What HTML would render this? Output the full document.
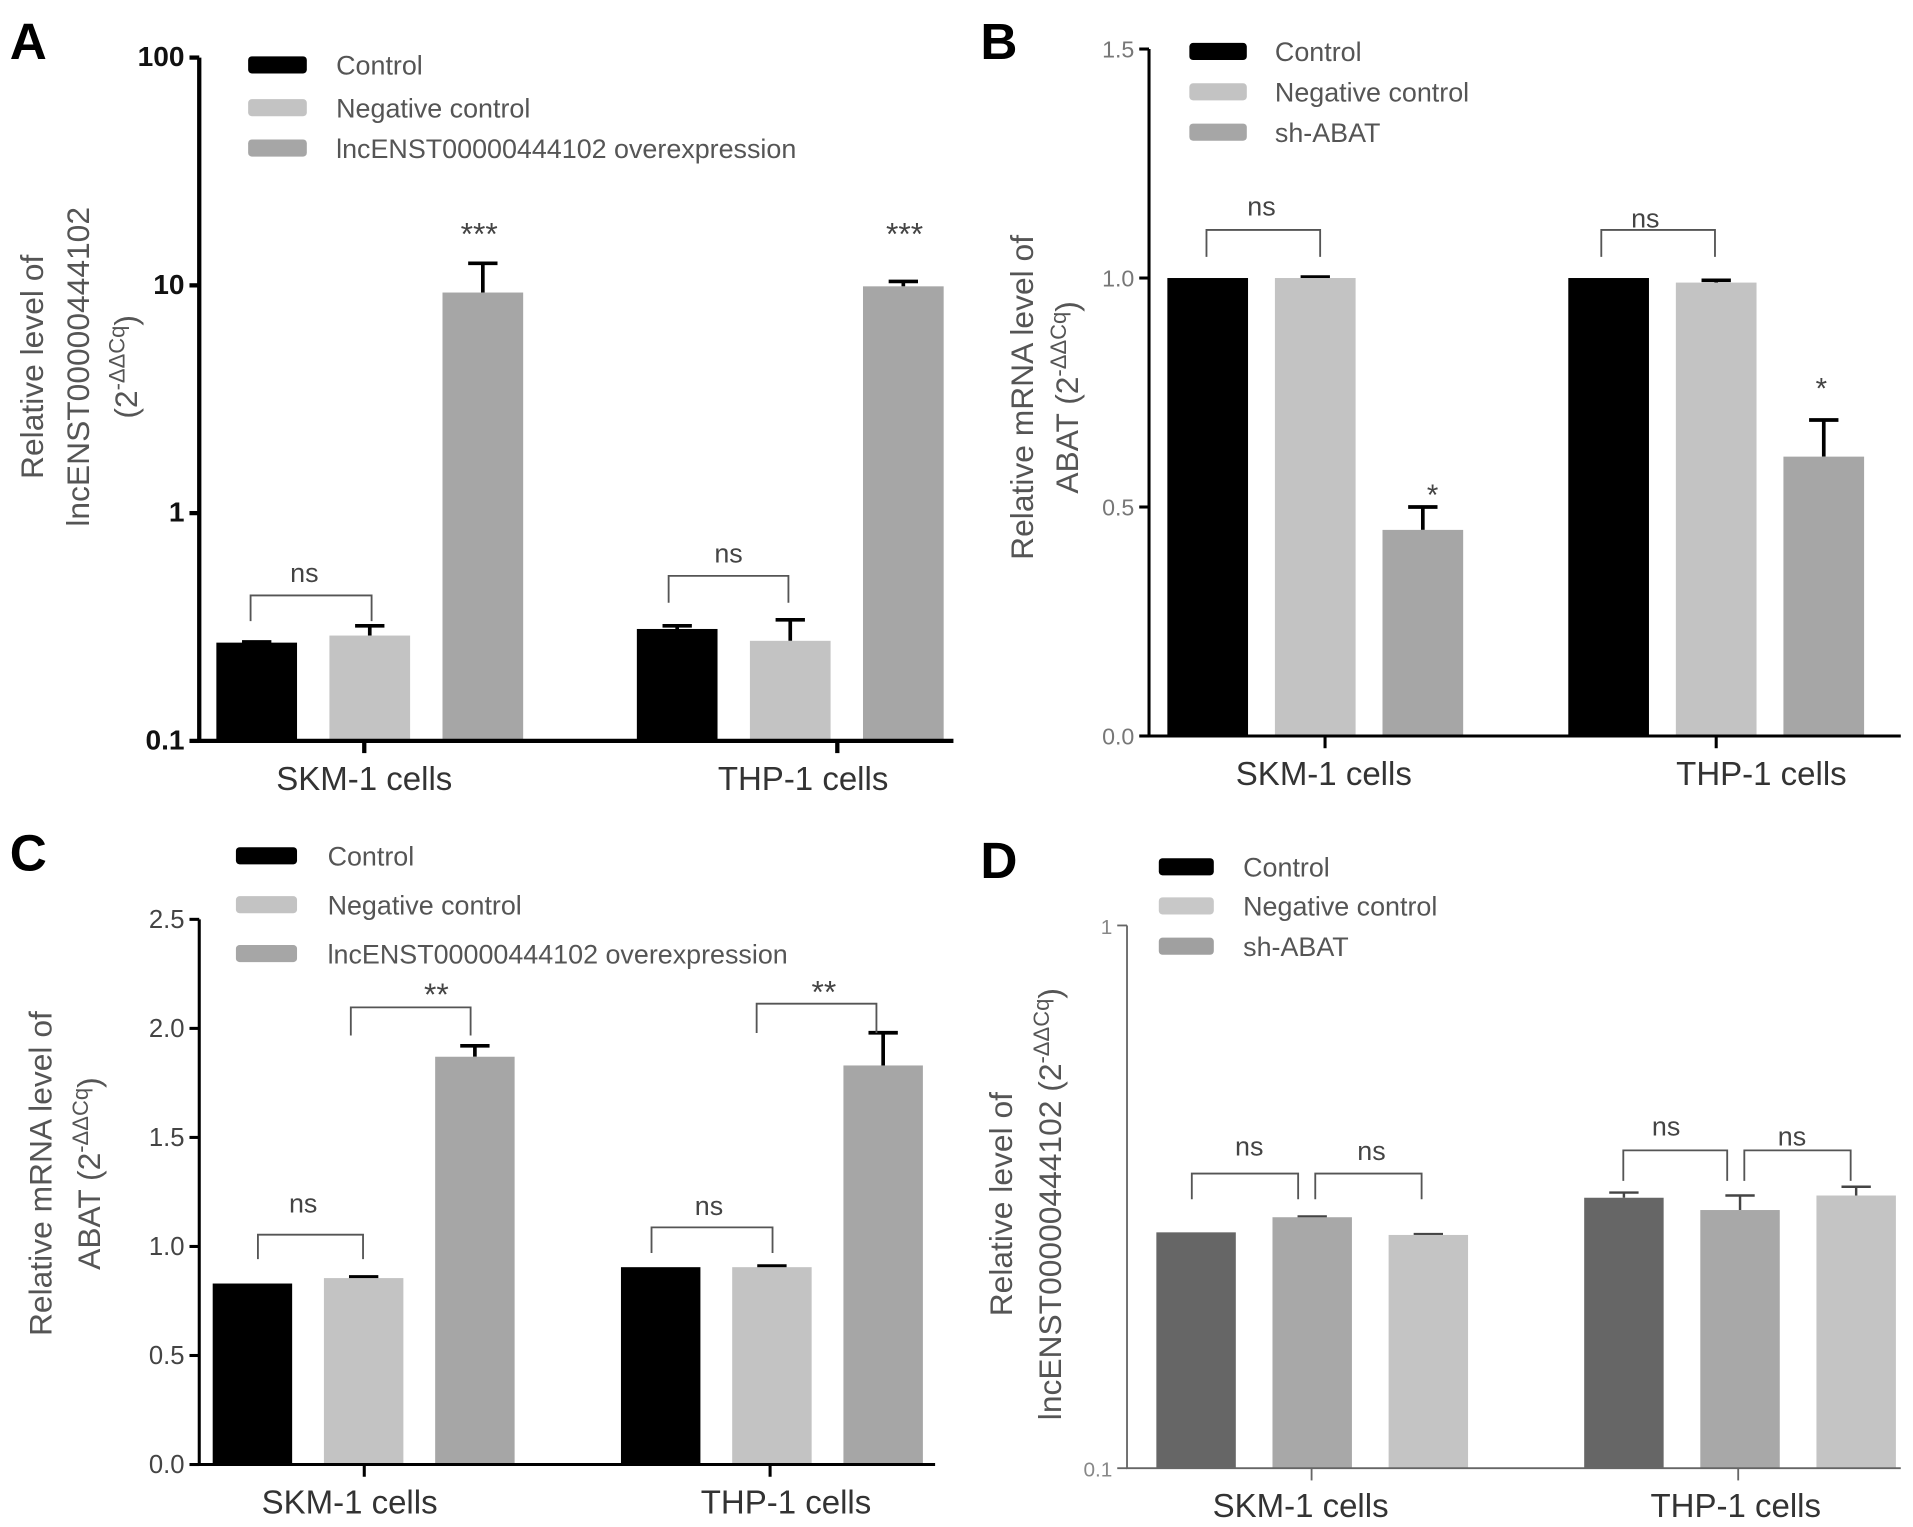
<!DOCTYPE html>
<html><head><meta charset="utf-8"><style>
html,body{margin:0;padding:0;background:#fff;width:1913px;height:1527px;overflow:hidden}
svg{display:block;font-family:"Liberation Sans",Arial,sans-serif}
</style></head><body>
<svg id="fig" width="1913" height="1527" viewBox="0 0 1565 1249" xmlns="http://www.w3.org/2000/svg"></svg>
<script>
const categories = ["SKM-1 cells","THP-1 cells"];
const aSeries = ["Control","Negative control","lncENST00000444102 overexpression"];
const aValues = [[0.27,0.29,9.3],[0.31,0.275,9.9]];
const aErrors = [[0.272,0.32,12.5],[0.32,0.34,10.4]];
const aTicks = ["0.1","1","10","100"];
const bSeries = ["Control","Negative control","sh-ABAT"];
const bValues = [[1.0,1.0,0.45],[1.0,0.99,0.61]];
const bErrors = [[1.0,1.002,0.50],[1.0,0.995,0.69]];
const bTicks = ["0.0","0.5","1.0","1.5"];
const cValues = [[0.83,0.855,1.87],[0.905,0.905,1.83]];
const cErrors = [[0.83,0.86,1.92],[0.905,0.91,1.98]];
const cTicks = ["0.0","0.5","1.0","1.5","2.0","2.5"];
const dValues = [[0.272,0.29,0.269],[0.315,0.299,0.318]];
const dErrors = [[0.272,0.291,0.27],[0.322,0.318,0.33]];
const dTicks = ["0.1","1"];

const NS="http://www.w3.org/2000/svg";
const svg=document.getElementById('fig');
function el(tag,attrs,parent,text){const e=document.createElementNS(NS,tag);for(const k in attrs)e.setAttribute(k,attrs[k]);if(text!==undefined)e.textContent=text;(parent||svg).appendChild(e);return e;}

function panel(cfg){
  const g=el('g',{});
  
  
  const yScale=cfg.log
    ? v=>cfg.y0-(Math.log10(v)-Math.log10(cfg.min))/(Math.log10(cfg.max)-Math.log10(cfg.min))*(cfg.y0-cfg.y1)
    : v=>cfg.y0-(v-cfg.min)/(cfg.max-cfg.min)*(cfg.y0-cfg.y1);
  // bars
  cfg.values.forEach((grp,gi)=>{
    grp.forEach((v,si)=>{
      const x=cfg.barX[gi]+si*cfg.step;
      const y=yScale(v);
      const e=cfg.errors[gi][si];
      if(e>v){
        const ey=yScale(e);
        const l=el('path',{d:`M${x+cfg.bw/2},${y} V${ey} M${x+cfg.bw/2-12},${ey} H${x+cfg.bw/2+12}`,stroke:cfg.errColor||'#000','stroke-width':cfg.errW||3,fill:'none'},g);
        
        
      }
      const r=el('rect',{x:x,y:y,width:cfg.bw,height:cfg.y0-y,fill:cfg.colors[si]},g);
      
      
    });
  });
  // axes
  const ax=el('path',{d:`M${cfg.x0},${cfg.y1} V${cfg.y0} H${cfg.x1}`,stroke:cfg.axisColor,'stroke-width':cfg.axisW,fill:'none'},g);
  
  
  cfg.ticks.forEach(t=>{
    const y=yScale(parseFloat(t));
    el('line',{x1:cfg.x0-8,x2:cfg.x0,y1:y,y2:y,stroke:cfg.axisColor,'stroke-width':cfg.axisW},g);
    const tl=el('text',{x:cfg.x0-12,y:y+7,'text-anchor':'end','font-size':cfg.tickFs,'font-weight':cfg.tickBold?'bold':'normal',fill:cfg.tickColor},g,t);
    
    
  });
  categories.forEach((c,gi)=>{
    const cx=cfg.catTick[gi];
    el('line',{x1:cx,x2:cx,y1:cfg.y0,y2:cfg.y0+10,stroke:cfg.axisColor,'stroke-width':cfg.axisW},g);
    const t=el('text',{x:cfg.catLabel[gi],y:cfg.y0+40,'text-anchor':'middle','font-size':27,fill:'#333'},g,c);
    
    
  });
  // legend
  cfg.series.forEach((s,i)=>{
    const ly=cfg.legY[i];
    const sw=el('rect',{x:cfg.legX,y:ly-7,width:cfg.legW,height:14,rx:3,fill:cfg.legColors[i]},g);
    
    
    const t=el('text',{x:cfg.legTX,y:ly+8,'font-size':22,fill:'#555'},g,s);
    
    
  });
  // y label
  cfg.ylabel.forEach((ln,i)=>{
    const t=el('text',{transform:`translate(${ln.x},${cfg.ylY}) rotate(-90)`,'text-anchor':'middle','font-size':26,fill:'#555'},g);
    
    
    t.appendChild(document.createTextNode(ln.t));
    if(ln.sup){
      const ts=el('tspan',{'font-size':18,dy:-10},t,'-ΔΔCq');
      el('tspan',{dy:10},t,')');
    }
  });
  // annotations
  (cfg.brackets||[]).forEach(b=>{
    const p=el('path',{d:`M${b[0]},${b[3]} V${b[2]} H${b[1]} V${b[3]}`,stroke:'#555','stroke-width':1.5,fill:'none'},g);
    
    
  });
  (cfg.labels||[]).forEach(l=>{
    const t=el('text',{x:l[0],y:l[1],'text-anchor':'middle','font-size':l[3]||22,fill:'#444'},g,l[2]);
    
    
  });
  const L=el('text',{x:cfg.letter[0],y:cfg.letter[1],'font-size':42,'font-weight':'bold',fill:'#000'},g,cfg.letterT);
  
  
}

const C3=['#000','#c3c3c3','#a6a6a6'];
panel({name:'panel-a',letterT:'A',letter:[8,48],log:true,min:0.1,max:100,x0:163,x1:780,y0:606,y1:47,
  values:aValues,errors:aErrors,ticks:aTicks,colors:C3,legColors:C3,bw:66,step:92.5,barX:[177,521],
  axisColor:'#000',axisW:3.5,tickFs:23,tickBold:true,tickColor:'#111',
  catTick:[298,685],catLabel:[298,657],series:aSeries,legX:203,legW:48,legTX:275,legY:[53,88,121],
  ylabel:[{x:35,t:'Relative level of'},{x:73,t:'lncENST00000444102'},{x:112,t:'(2',sup:true}],ylY:300,
  brackets:[[205,304,487,508],[547,645,471,493]],
  labels:[[249,476,'ns'],[596,460,'ns'],[392,200,'***',26],[740,200,'***',26]]});
panel({name:'panel-b',letterT:'B',letter:[802,48],log:false,min:0,max:1.5,x0:940,x1:1555,y0:602,y1:40,
  values:bValues,errors:bErrors,ticks:bTicks,colors:C3,legColors:C3,bw:66,step:88,barX:[955,1283],
  axisColor:'#000',axisW:2.5,tickFs:19,tickBold:false,tickColor:'#777',
  catTick:[1084,1404],catLabel:[1083,1441],series:bSeries,legX:973,legW:47,legTX:1043,legY:42,
  legY:[42,75,108],
  ylabel:[{x:845,t:'Relative mRNA level of'},{x:882,t:'ABAT (2',sup:true}],ylY:325,
  brackets:[[987,1080,188,210],[1310,1403,188,210]],
  labels:[[1032,176,'ns'],[1346,186,'ns'],[1172,413,'*',24],[1490,326,'*',24]]});
panel({name:'panel-c',letterT:'C',letter:[8,712],log:false,min:0,max:2.5,x0:163,x1:765,y0:1198,y1:752,
  values:cValues,errors:cErrors,ticks:cTicks,colors:C3,legColors:C3,bw:65,step:91,barX:[174,508],
  axisColor:'#000',axisW:2.5,tickFs:21,tickBold:false,tickColor:'#444',
  catTick:[298,630],catLabel:[286,643],series:aSeries,legX:193,legW:50,legTX:268,legY:[700,740,780],
  ylabel:[{x:42,t:'Relative mRNA level of'},{x:82,t:'ABAT (2',sup:true}],ylY:960,
  brackets:[[211,297,1010,1030],[533,632,1004,1025],[287,385,824,847],[619,717,821,845]],
  labels:[[248,992,'ns'],[580,994,'ns'],[357,822,'**',26],[674,820,'**',26]]});
panel({name:'panel-d',letterT:'D',letter:[802,718],log:true,min:0.1,max:1,x0:922,x1:1555,y0:1201,y1:757,
  values:dValues,errors:dErrors,ticks:dTicks,colors:['#666','#a8a8a8','#c4c4c4'],legColors:['#000','#c8c8c8','#a0a0a0'],
  bw:65,step:95,barX:[946,1296],errColor:'#444',errW:2,
  axisColor:'#666',axisW:1.5,tickFs:17,tickBold:false,tickColor:'#888',
  catTick:[1073,1422],catLabel:[1064,1420],series:bSeries,legX:948,legW:45,legTX:1017,legY:[709,741,774],
  ylabel:[{x:828,t:'Relative  level of'},{x:868,t:'lncENST00000444102 (2',sup:true}],ylY:985,
  brackets:[[975,1062,960,981],[1076,1163,960,981],[1328,1413,941,966],[1427,1514,941,966]],
  labels:[[1022,945,'ns'],[1122,949,'ns'],[1363,929,'ns'],[1466,937,'ns']]});
</script>
</body></html>
